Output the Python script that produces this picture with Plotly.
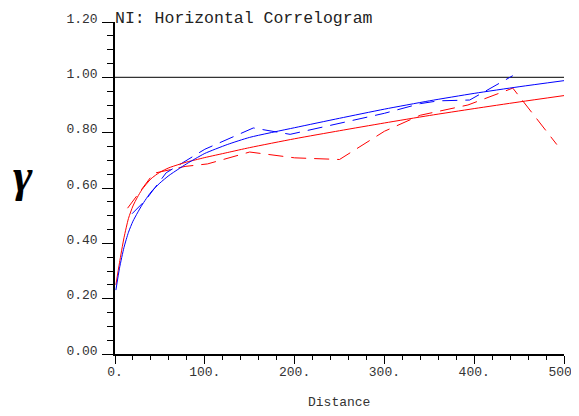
import plotly.graph_objects as go

# ---- data ----
model_dist = [1, 5, 10, 15, 20, 25, 30, 40, 50, 60, 70, 80, 90, 100, 125, 150,
              200, 250, 300, 350, 400, 450, 500]
blue_model = [0.231, 0.31, 0.385, 0.44, 0.48, 0.51, 0.538, 0.585, 0.618, 0.645,
              0.667, 0.688, 0.707, 0.725, 0.757, 0.783, 0.818, 0.852, 0.885,
              0.915, 0.942, 0.966, 0.988]
red_model = [0.25, 0.33, 0.42, 0.49, 0.535, 0.567, 0.594, 0.633, 0.657, 0.673,
             0.684, 0.694, 0.702, 0.71, 0.728, 0.746, 0.778, 0.807, 0.835,
             0.862, 0.887, 0.911, 0.934]

blue_exp_dist = [19, 34, 57, 100, 154, 195, 300, 340, 360, 395, 443]
blue_exp = [0.507, 0.556, 0.655, 0.74, 0.817, 0.794, 0.87, 0.905, 0.915, 0.918, 1.006]

red_exp_dist = [14, 43, 78, 103, 150, 200, 250, 300, 340, 393, 443, 492]
red_exp = [0.527, 0.653, 0.678, 0.687, 0.730, 0.709, 0.703, 0.805, 0.863, 0.900,
           0.961, 0.757]

sill_dist = [0, 500]
sill = [1.0, 1.0]

x_ticks = [0, 100, 200, 300, 400, 500]
x_tick_labels = ["0.", "100.", "200.", "300.", "400.", "500."]
y_ticks = [0.0, 0.2, 0.4, 0.6, 0.8, 1.0, 1.2]
y_tick_labels = ["0.00", "0.20", "0.40", "0.60", "0.80", "1.00", "1.20"]

title_text = "NI: Horizontal Correlogram"
x_title = "Distance"
y_title = "<b><i>γ</i></b>"

# ---- figure ----
mono = "Liberation Mono"
fig = go.Figure()
fig.add_trace(go.Scatter(x=sill_dist, y=sill, mode="lines",
                         line=dict(color="#333333", width=1.3)))
fig.add_trace(go.Scatter(x=red_exp_dist, y=red_exp, mode="lines",
                         line=dict(color="#ff0000", width=1, dash="15px,8px")))
fig.add_trace(go.Scatter(x=blue_exp_dist, y=blue_exp, mode="lines",
                         line=dict(color="#0000ff", width=1, dash="15px,8px")))
fig.add_trace(go.Scatter(x=model_dist, y=red_model, mode="lines",
                         line=dict(color="#ff0000", width=1, shape="spline", smoothing=0.6)))
fig.add_trace(go.Scatter(x=model_dist, y=blue_model, mode="lines",
                         line=dict(color="#0000ff", width=1, shape="spline", smoothing=0.6)))

# page body has an 8px margin: plot area spans x 115..564, y 22..354 in the window
OFF = 8
W, H = 579 - OFF, 416 - OFF
L, R, T, B = 115 - OFF, 15, 22 - OFF, 62
pw, ph = W - L - R, H - T - B

fig.update_layout(
    width=W, height=H,
    margin=dict(l=L, r=R, t=T, b=B, pad=0, autoexpand=False),
    paper_bgcolor="white", plot_bgcolor="white",
    showlegend=False,
    font=dict(family=mono, size=13, color="#333333"),
    xaxis=dict(range=[0, 500], showgrid=False, zeroline=False,
               showline=True, linecolor="black", linewidth=1.5,
               ticks="outside", ticklen=8, tickwidth=1.2, tickcolor="black",
               tickvals=x_ticks, ticktext=x_tick_labels,
               ticklabeloverflow="allow", ticklabelstandoff=-3,
               tickfont=dict(family=mono, size=13, color="#333333"),
               minor=dict(dtick=20, ticks="outside", ticklen=4, tickwidth=1.2,
                          tickcolor="black", showgrid=False)),
    yaxis=dict(range=[0, 1.2], showgrid=False, zeroline=False,
               showline=True, linecolor="black", linewidth=1.5,
               ticks="outside", ticklen=11, tickwidth=1.2, tickcolor="black",
               tickvals=y_ticks, ticktext=y_tick_labels,
               ticklabelshift=-4, ticklabelstandoff=2, ticklabeloverflow="allow",
               tickfont=dict(family=mono, size=13, color="#333333"),
               minor=dict(dtick=0.05, ticks="outside", ticklen=6, tickwidth=1.2,
                          tickcolor="black", showgrid=False)),
)

def px_x(p):
    return (p - 115) / pw

def px_y(p):
    return (354 - p) / ph

fig.add_annotation(text=title_text, xref="paper", yref="paper",
                   x=px_x(113), y=px_y(6.5), xanchor="left", yanchor="top",
                   showarrow=False, font=dict(family=mono, size=16.5, color="#222222"))
fig.add_annotation(text=x_title, xref="paper", yref="paper",
                   x=px_x(339), y=px_y(402), xanchor="center", yanchor="middle",
                   showarrow=False, font=dict(family=mono, size=13, color="#333333"))
fig.add_annotation(text=y_title, xref="paper", yref="paper",
                   x=px_x(23), y=px_y(175), xanchor="center", yanchor="middle",
                   showarrow=False, font=dict(family="Liberation Serif", size=47, color="black"))

fig.write_html("out.html")
